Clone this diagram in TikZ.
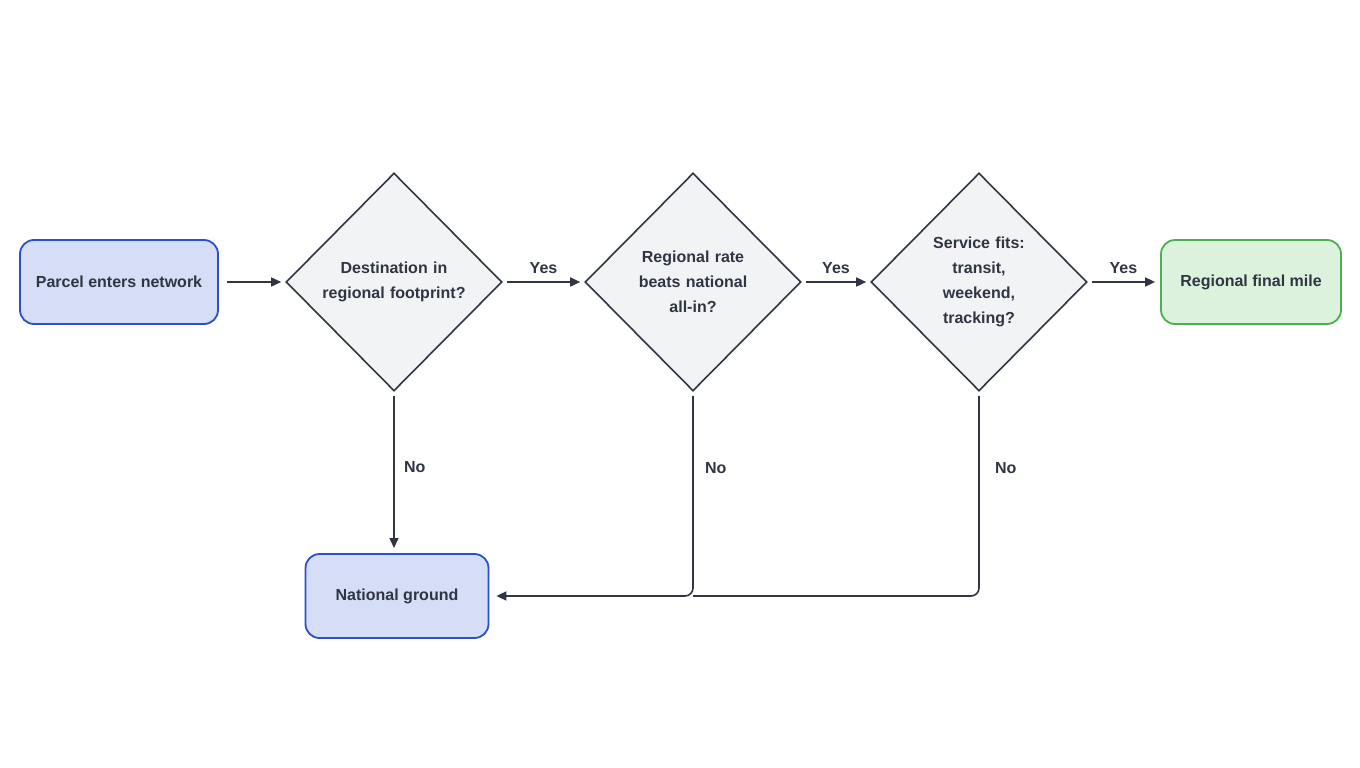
\documentclass[tikz,border=0pt]{standalone}
\usepackage{fontspec}
\setmainfont{Liberation Sans}
\usetikzlibrary{shapes.geometric,arrows.meta}
\definecolor{bfill}{HTML}{D5DDF7}
\definecolor{bline}{HTML}{2B4FCF}
\definecolor{gfill}{HTML}{DDF2DD}
\definecolor{gline}{HTML}{4CAF50}
\definecolor{dfill}{HTML}{F2F3F5}
\definecolor{ink}{HTML}{2F3542}
\begin{document}
\begin{tikzpicture}[x=1pt,y=-1pt,
  every node/.style={font=\fontsize{16}{25}\selectfont\bfseries, text=ink},
  box/.style={draw=bline, fill=bfill, line width=1.8pt, rounded corners=14pt, minimum height=84pt, inner sep=0},
  dia/.style={diamond, draw=ink, fill=dfill, line width=1.6pt, minimum width=216pt, minimum height=218pt, inner sep=0, text width=160pt, align=center},
  arr/.style={draw=ink, line width=1.6pt, -{Triangle[length=10pt,width=9pt]}},
  lbl/.style={font=\fontsize{16}{20}\selectfont\bfseries}]
\useasboundingbox[fill=white] (0,0) rectangle (1360,768);
\node[box, minimum width=198pt] (p) at (119,282) {Parcel enters network};
\node[dia] (d1) at (394,282) {Destination in\\regional footprint?};
\node[dia, text width=122pt] (d2) at (693,282) {Regional rate\\beats national\\all-in?};
\node[dia, text width=122pt] (d3) at (979,282) {Service fits:\\transit, weekend,\\tracking?};
\node[box, draw=gline, fill=gfill, minimum width=180pt] (r) at (1251,282) {Regional final mile};
\node[box, minimum width=183pt] (n) at (397,596) {National ground};
\coordinate (j2) at (693,596);
\coordinate (j3) at (979,596);
\coordinate (e1) at (394,548);
\draw[arr] ([xshift=8pt]p.east) -- ([xshift=-4pt]d1.west);
\draw[arr] ([xshift=4pt]d1.east) -- node[lbl, above=4pt] {Yes} ([xshift=-4pt]d2.west);
\draw[arr] ([xshift=4pt]d2.east) -- node[lbl, above=4pt] {Yes} ([xshift=-4pt]d3.west);
\draw[arr] ([xshift=4pt]d3.east) -- node[lbl, above=4pt] {Yes} ([xshift=-5pt]r.west);
\draw[arr] ([yshift=-4pt]d1.south) -- node[lbl, right=6pt, pos=0.47] {No} (e1);
\draw[arr, rounded corners=8pt] ([yshift=-4pt]d2.south) -- node[lbl, right=8pt, pos=0.36] {No} (j2) -- ([xshift=7pt]n.east);
\draw[draw=ink, line width=1.6pt, rounded corners=8pt] ([yshift=-4pt]d3.south) -- node[lbl, right=12pt, pos=0.36] {No} (j3) -- (j2);
\end{tikzpicture}
\end{document}
